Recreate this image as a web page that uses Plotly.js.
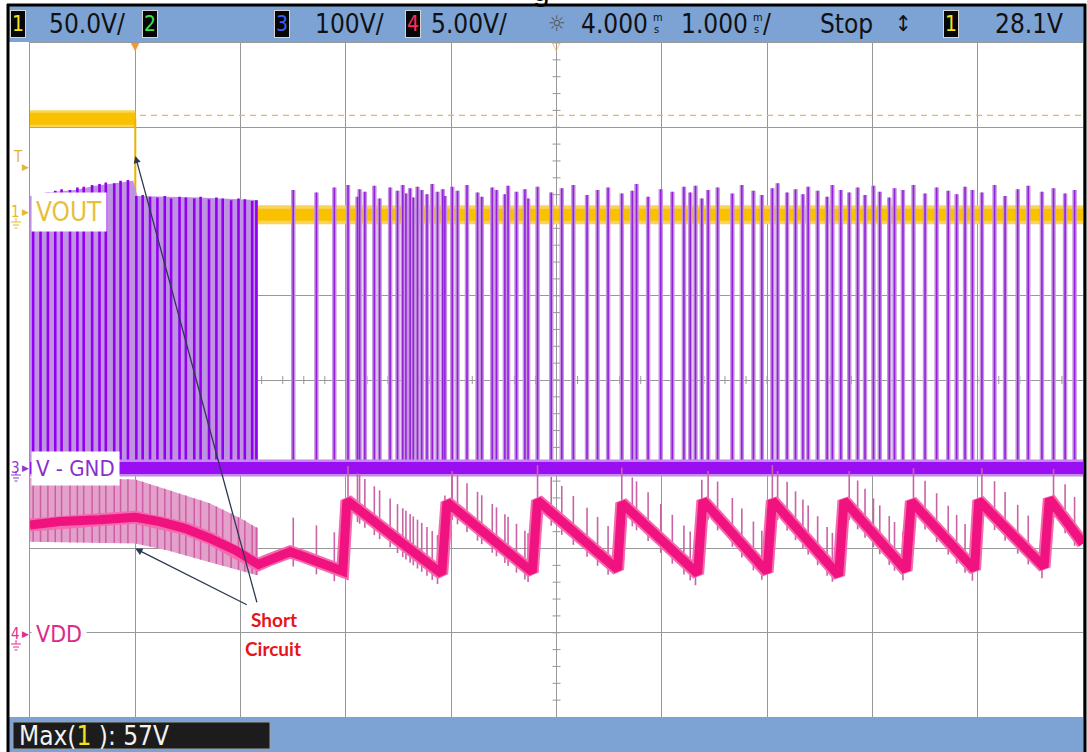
<!DOCTYPE html>
<html>
<head>
<meta charset="utf-8">
<script src="https://cdn.plot.ly/plotly-3.0.1.min.js"></script>
<style>html,body{margin:0;padding:0;background:#fff;overflow:hidden}#chart{width:1087px;height:752px}</style>
</head>
<body>
<div id="chart"></div>
<script>
// ---------- scope settings (status bar) ----------
const ch1Scale = 50, ch3Scale = 100, ch4Scale = 5;          // V/div
const ch1Ground = 2.0, ch3Ground = -1.045, ch4Ground = -3.02; // ground marker position, divisions from centre
const timeRef = 4.0, timePerDiv = 1.0;                        // ms
const triggerLevel = 28.1;                                    // V on ch1
const maxCh1 = 57;                                            // Max(1) measurement, V

// ---------- Ch1 : VOUT (yellow) ----------
const voutPreT = [-1.0, 0.0];
const voutPreV = [55, 55];
const voutPostT = [0.0, 9.0];
const voutPostV = [-2, -2];
const voutDropT = [0.0, 0.0];
const voutDropV = [55, -2];

// ---------- Ch3 : V-GND (purple) ----------
const v3BaseT = [-1.0, 9.0];
const v3BaseV = [0, 0];
const v3EnvT   = [-1.00, -0.86, -0.57, -0.38, -0.19, -0.02, 0.02, 0.61, 1.165];
const v3EnvTop = [323, 327, 330, 335, 338, 341, 323, 321, 318];
const v3DenseT = [-0.97,-0.90,-0.83,-0.76,-0.70,-0.62,-0.55,-0.49,-0.41,-0.34,-0.28,-0.20,-0.14,-0.07,0.01,0.07,
                  0.14,0.21,0.28,0.34,0.42,0.48,0.56,0.62,0.70,0.77,0.83,0.91,0.98,1.04,1.11,1.15];
const v3DenseTop = [322,326,327,329,331,330,333,334,336,337,339,338,341,342,323,324,
                    322,321,323,320,322,321,320,322,319,321,320,318,320,319,317,318];
const v3PulseT = [1.50,1.72,1.89,2.02,2.11,2.13,2.18,2.27,2.32,2.42,
                  2.49,2.54,2.57,2.61,2.64,2.68,2.72,2.77,2.82,2.87,
                  2.92,2.94,3.01,3.06,3.15,3.25,3.29,3.39,3.43,3.51,
                  3.54,3.62,3.70,3.73,3.82,3.95,4.05,4.16,4.29,4.39,
                  4.49,4.62,4.72,4.76,4.87,4.99,5.10,5.21,5.27,5.32,
                  5.38,5.44,5.53,5.67,5.76,5.87,5.95,6.05,6.10,6.19,
                  6.27,6.34,6.39,6.48,6.57,6.62,6.70,6.78,6.86,6.93,
                  7.01,7.07,7.16,7.21,7.29,7.39,7.50,7.61,7.72,7.80,
                  7.88,7.95,8.04,8.16,8.26,8.38,8.48,8.61,8.72,8.83,
                  8.92];
const v3PulseTop = [330,327,333,336,322,331,328,335,320,333,
                    329,336,326,332,321,334,330,325,337,328,
                    331,323,334,329,336,327,322,333,330,325,
                    335,328,331,320,334,327,332,336,324,330,
                    333,326,329,337,322,331,328,334,327,335,
                    320,330,333,326,336,329,324,332,338,327,
                    331,325,334,329,322,336,330,327,333,324,
                    335,328,321,332,330,336,326,333,329,325,
                    334,330,327,336,323,331,335,328,332,326,
                    330];

// ---------- Ch4 : VDD (pink) ----------
const v4T = [-1.00,-0.72,-0.34,0.00,0.23,0.47,0.71,0.95,1.17,1.26,
             1.47,1.61,1.80,1.97,2.01,2.91,2.96,3.77,3.82,4.58,
             4.62,5.34,5.39,6.00,6.05,6.68,6.73,7.32,7.37,7.97,
             8.01,8.63,8.68,9.00];
const v4V = [6.5,6.7,6.8,6.95,6.7,6.3,5.7,5.0,4.15,4.4,
             4.9,4.6,4.2,3.75,7.95,3.6,7.85,3.7,7.95,3.85,
             7.8,3.6,7.95,3.7,7.95,3.5,7.95,3.8,7.9,3.85,
             7.95,4.0,8.05,5.4];
const v4EnvT  = [-1.00, 0.00, 0.30, 0.70, 1.00, 1.165];
const v4EnvHi = [9.3, 9.2, 8.6, 7.8, 6.9, 6.3];
const v4EnvLo = [5.5, 5.4, 5.0, 4.3, 3.8, 3.5];
const v4SpikeUp = 2.1, v4SpikeDown = 0.8;   // switching spikes riding on VDD, V

// ---------- geometry helpers (layout only) ----------
const L = 30, R = 1083, T = 43, B = 717;
const xp = px => (px - L) / (R - L);
const yp = py => (B - py) / (B - T);
const NARROW = '"Liberation Sans Narrow", "Arial Narrow", "DejaVu Sans Condensed", "Liberation Sans", Arial, sans-serif';

function sticks(ts, lo, hi) {
  const x = [], y = [];
  ts.forEach((t, i) => {
    x.push(t, t, null);
    y.push(typeof lo === 'number' ? lo : lo[i], typeof hi === 'number' ? hi : hi[i], null);
  });
  return {x, y};
}
function at(xs, ys, t) {
  for (let i = 0; i < xs.length - 1; i++) {
    if (t >= xs[i] && t <= xs[i + 1]) {
      const d = xs[i + 1] - xs[i];
      return d === 0 ? ys[i + 1] : ys[i] + (ys[i + 1] - ys[i]) * (t - xs[i]) / d;
    }
  }
  return ys[ys.length - 1];
}
const base = {type: 'scatter', mode: 'lines', hoverinfo: 'skip', showlegend: false};
const tr = (o) => Object.assign({}, base, o);

const traces = [];
traces.push(tr({x: [...v3EnvT, v3EnvT[v3EnvT.length - 1], v3EnvT[0]], y: [...v3EnvTop, 0, 0],
  yaxis: 'y3', fill: 'toself', fillcolor: '#BF93E2', line: {width: 0}}));
let s = sticks(v3DenseT, 0, v3DenseTop);
traces.push(tr({x: s.x, y: s.y, yaxis: 'y3', line: {color: '#9300F0', width: 2.6}}));
s = sticks(v3PulseT, 0, v3PulseTop);
traces.push(tr({x: s.x, y: s.y, yaxis: 'y3', line: {color: '#C596DD', width: 4.5}}));
traces.push(tr({x: s.x, y: s.y, yaxis: 'y3', line: {color: '#9420DC', width: 1.6}}));
traces.push(tr({x: v3BaseT, y: v3BaseV, yaxis: 'y3', line: {color: '#C58BEA', width: 17}}));
traces.push(tr({x: v3BaseT, y: v3BaseV, yaxis: 'y3', line: {color: '#9A0FF2', width: 12}}));
traces.push(tr({x: [...v4EnvT, ...v4EnvT.slice().reverse()], y: [...v4EnvHi, ...v4EnvLo.slice().reverse()],
  yaxis: 'y4', fill: 'toself', fillcolor: '#E2A0CA', line: {width: 0}}));
s = sticks(v3DenseT, v3DenseT.map(t => at(v4EnvT, v4EnvLo, t)), v3DenseT.map(t => at(v4EnvT, v4EnvHi, t)));
traces.push(tr({x: s.x, y: s.y, yaxis: 'y4', line: {color: '#CE5DA5', width: 1.5}}));
s = sticks(v3PulseT, v3PulseT.map(t => at(v4T, v4V, t) - v4SpikeDown), v3PulseT.map(t => at(v4T, v4V, t) + v4SpikeUp));
traces.push(tr({x: s.x, y: s.y, yaxis: 'y4', line: {color: '#CA62A6', width: 1.6}}));
traces.push(tr({x: v4T, y: v4V, yaxis: 'y4', line: {color: '#F46AAE', width: 13}}));
traces.push(tr({x: v4T, y: v4V, yaxis: 'y4', line: {color: '#F0127E', width: 9}}));
traces.push(tr({x: [-1, 9], y: [maxCh1, maxCh1], yaxis: 'y2', line: {color: '#F2B35A', width: 1.3, dash: '6px,5px'}}));
traces.push(tr({x: voutPreT, y: voutPreV, yaxis: 'y2', line: {color: '#FBD453', width: 17}}));
traces.push(tr({x: voutPreT, y: voutPreV, yaxis: 'y2', line: {color: '#F9C100', width: 12}}));
traces.push(tr({x: voutPostT, y: voutPostV, yaxis: 'y2', line: {color: '#FAD35A', width: 19}}));
traces.push(tr({x: voutPostT, y: voutPostV, yaxis: 'y2', line: {color: '#F9C100', width: 12}}));
traces.push(tr({x: voutDropT, y: voutDropV, yaxis: 'y2', line: {color: '#E8B400', width: 2}}));

// ---------- annotations & shapes ----------
const anns = [];
function txt(px, py, text, size, color, xanchor, extra) {
  anns.push(Object.assign({xref: 'paper', yref: 'paper', x: xp(px), y: yp(py), text: text, showarrow: false,
    xanchor: xanchor || 'left', yanchor: 'middle', font: {family: NARROW, size: size, color: color}}, extra || {}));
}
function chBox(cx, d, color) {
  txt(cx, 24, d, 21, color, 'center', {bgcolor: '#060606', bordercolor: '#d4d4d4', borderwidth: 1, borderpad: 1});
}
chBox(18, '1', '#F2E21C');
txt(47, 24, ch1Scale.toFixed(1) + 'V/', 26, '#111');
chBox(150, '2', '#3FE04B');
chBox(282, '3', '#3A5CFF');
txt(313, 24, ch3Scale.toFixed(0) + 'V/', 26, '#111');
chBox(413, '4', '#FF2B5E');
txt(429, 24, ch4Scale.toFixed(2) + 'V/', 26, '#111');
txt(557, 24, '☼', 22, '#555', 'center');
txt(650, 24, timeRef.toFixed(3), 26, '#111', 'right');
txt(651, 18, 'm', 11, '#111');
txt(652, 30, 's', 11, '#111');
txt(750, 24, timePerDiv.toFixed(3), 26, '#111', 'right');
txt(751, 18, 'm', 11, '#111');
txt(752, 30, 's', 11, '#111');
txt(761, 24, '/', 26, '#111');
txt(818, 24, 'Stop', 26, '#111');
txt(903, 24, '↕', 22, '#111', 'center');
chBox(951, '1', '#F2E21C');
txt(993, 24, triggerLevel.toFixed(1) + 'V', 26, '#111');
anns.push({xref: 'paper', yref: 'paper', x: xp(541), y: yp(9), text: 'g', showarrow: false, xanchor: 'center', yanchor: 'bottom',
  font: {family: 'Liberation Sans, Arial, sans-serif', size: 30, color: '#000'}});
txt(17, 736, 'Max(<span style="color:#F4E21A">1</span> ): ' + maxCh1 + 'V', 26, '#f2f2f2');
function marker(label, yref, yv, color) {
  anns.push({xref: 'paper', yref: yref, x: xp(15), y: yv, text: label, showarrow: false, xanchor: 'center', yanchor: 'middle',
    font: {family: NARROW, size: 15, color: color}});
  anns.push({xref: 'paper', yref: yref, x: xp(25), y: yv, text: '▶', showarrow: false, xanchor: 'center', yanchor: 'middle',
    font: {family: 'DejaVu Sans, sans-serif', size: 9, color: color}});
}
marker('1', 'y2', 0, '#E6B82A');
marker('3', 'y3', 0, '#8E3BD0');
marker('4', 'y4', 0, '#E0308C');
anns.push({xref: 'paper', yref: 'y2', x: xp(18), y: triggerLevel, yshift: 7, text: 'T', showarrow: false, xanchor: 'center', yanchor: 'middle',
  font: {family: NARROW, size: 15, color: '#E3B43C'}});
anns.push({xref: 'paper', yref: 'y2', x: xp(25), y: triggerLevel, yshift: -3, text: '▶', showarrow: false, xanchor: 'center', yanchor: 'middle',
  font: {family: 'DejaVu Sans, sans-serif', size: 9, color: '#E3B43C'}});
function label(text, yref, color, size) {
  anns.push({xref: 'paper', yref: yref, x: xp(31), y: 0, text: text, showarrow: false, xanchor: 'left', yanchor: 'middle',
    bgcolor: '#fff', borderpad: 4, font: {family: NARROW, size: size, color: color}});
}
label('VOUT', 'y2', '#E8BF3C', 26);
label('V - GND', 'y3', '#8B2FCB', 22);
label('VDD', 'y4', '#DE2A8A', 23);
anns.push({xref: 'x', yref: 'paper', x: 0, y: yp(47), text: '▼', showarrow: false, xanchor: 'center', yanchor: 'middle',
  font: {family: 'DejaVu Sans, sans-serif', size: 11, color: '#F29A2E'}});
anns.push({xref: 'x', yref: 'paper', x: timeRef, y: yp(47), text: '▽', showarrow: false, xanchor: 'center', yanchor: 'middle',
  font: {family: 'DejaVu Sans, sans-serif', size: 11, color: '#F0A848'}});
const calloutFont = {family: 'Lato, "Open Sans", sans-serif', size: 19, color: '#E8141C', weight: 'bold'};
txt(274, 619, 'Short', 19, '#E8141C', 'center', {font: calloutFont});
txt(273, 648, 'Circuit', 19, '#E8141C', 'center', {font: calloutFont});
anns.push({xref: 'x', yref: 'y2', x: 0, y: 33, text: '', showarrow: true, ax: 122, ay: 448, axref: 'pixel', ayref: 'pixel',
  arrowcolor: '#2C3850', arrowwidth: 1.3, arrowhead: 2, arrowsize: 1.1, standoff: 0});
anns.push({xref: 'x', yref: 'y4', x: 0, y: 5.1, text: '', showarrow: true, ax: 113, ay: 57, axref: 'pixel', ayref: 'pixel',
  arrowcolor: '#2C3850', arrowwidth: 1.3, arrowhead: 2, arrowsize: 1.1, standoff: 0});

const gridC = '#989898';
const shapes = [];
function rectPx(x0, y0, x1, y1, fill, line) {
  shapes.push({type: 'rect', xref: 'paper', yref: 'paper', x0: xp(x0), x1: xp(x1), y0: yp(y0), y1: yp(y1),
    fillcolor: fill, line: line || {width: 0}, layer: 'above'});
}
function linePx(x0, y0, x1, y1, color, width) {
  shapes.push({type: 'line', xref: 'paper', yref: 'paper', x0: xp(x0), x1: xp(x1), y0: yp(y0), y1: yp(y1),
    line: {color: color, width: width}, layer: 'above'});
}
function gnd(cx, py, color) {
  linePx(cx, py, cx, py + 4, color, 1);
  linePx(cx - 5, py + 4, cx + 5, py + 4, color, 1);
  linePx(cx - 3, py + 7, cx + 3, py + 7, color, 1);
  linePx(cx - 1.5, py + 10, cx + 1.5, py + 10, color, 1);
}
for (let k = 1; k < 50; k++) {
  const t = timeRef - 5 * timePerDiv + k * timePerDiv / 5;
  shapes.push({type: 'line', xref: 'x', yref: 'y', x0: t, x1: t, ysizemode: 'pixel', yanchor: 0, y0: -4, y1: 4,
    line: {color: gridC, width: 1}, layer: 'below'});
}
for (let k = 1; k < 40; k++) {
  const d = -4 + k / 5;
  shapes.push({type: 'line', xref: 'x', yref: 'y', y0: d, y1: d, xsizemode: 'pixel', xanchor: timeRef, x0: -4, x1: 4,
    line: {color: gridC, width: 1}, layer: 'below'});
}
rectPx(8, 6, 1085, 42, '#7DA2D4');
rectPx(8, 717, 1085, 752, '#7DA2D4');
rectPx(13, 722, 270, 749, '#1c1c1c', {color: '#a0a0a0', width: 1});
linePx(8, 4, 8, 752, '#000', 3);
linePx(7, 5, 1086, 5, '#000', 3);
linePx(1085, 4, 1085, 752, '#000', 3);
gnd(16, 218, '#E6B82A');
gnd(16, 471, '#8E3BD0');
gnd(16, 640, '#E0308C');

const chAx = (g, sc) => ({overlaying: 'y', anchor: 'x', range: [(-4 - g) * sc, (4 - g) * sc], visible: false, fixedrange: true});

const layout = {
  width: 1087, height: 752,
  margin: {l: L, r: 1087 - R, t: T, b: 752 - B, pad: 0},
  paper_bgcolor: '#fff', plot_bgcolor: '#fff', showlegend: false,
  xaxis: {range: [timeRef - 5 * timePerDiv, timeRef + 5 * timePerDiv], tick0: 0, dtick: timePerDiv, showgrid: true,
    gridcolor: gridC, gridwidth: 1, zeroline: false, showticklabels: false, ticks: '', showline: true,
    linecolor: gridC, linewidth: 1, mirror: true, fixedrange: true},
  yaxis: {range: [-4, 4], tick0: 0, dtick: 1, showgrid: true, gridcolor: gridC, gridwidth: 1, zeroline: false,
    showticklabels: false, ticks: '', showline: true, linecolor: gridC, linewidth: 1, mirror: true, fixedrange: true},
  yaxis2: chAx(ch1Ground, ch1Scale),
  yaxis3: chAx(ch3Ground, ch3Scale),
  yaxis4: chAx(ch4Ground, ch4Scale),
  annotations: anns, shapes: shapes
};
Plotly.newPlot('chart', traces, layout, {staticPlot: true, displayModeBar: false});
</script>
</body>
</html>
